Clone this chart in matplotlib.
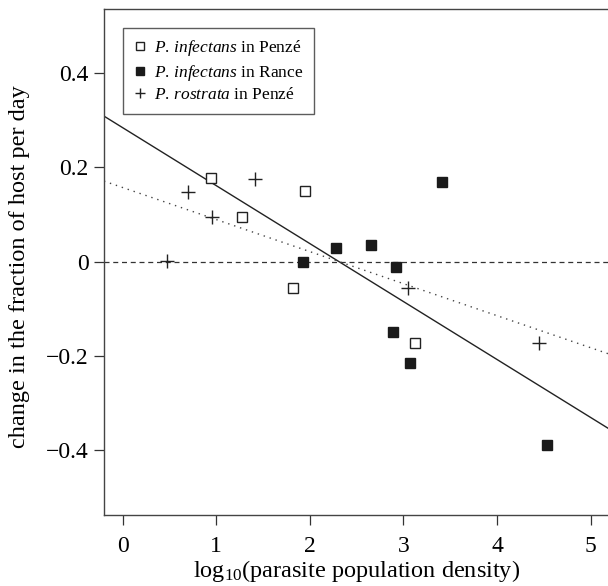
import matplotlib
matplotlib.use("Agg")
import matplotlib.pyplot as plt
import numpy as np

plt.rcParams['font.family'] = ['Liberation Serif', 'DejaVu Serif']
plt.rcParams['mathtext.fontset'] = 'custom'
plt.rcParams['mathtext.rm'] = 'Liberation Serif'
plt.rcParams['mathtext.it'] = 'Liberation Serif:italic'

# P. infectans in Penzé (open squares)
inf_penze_x = [0.94, 1.28, 1.95, 1.82, 3.12]
inf_penze_y = [0.177, 0.094, 0.149, -0.056, -0.172]

# P. infectans in Rance (filled squares)
inf_rance_x = [1.93, 2.28, 2.65, 2.92, 3.41, 2.89, 3.07, 4.53]
inf_rance_y = [0.000, 0.029, 0.035, -0.011, 0.169, -0.149, -0.215, -0.390]

# P. rostrata in Penzé (plus signs)
ros_penze_x = [0.47, 0.70, 0.955, 1.41, 3.05, 4.45]
ros_penze_y = [0.001, 0.148, 0.094, 0.175, -0.057, -0.172]

# fitted lines: (intercept, slope)
fit_infectans = (0.284, -0.123)
fit_rostrata = (0.157, -0.068)

yticks = [-0.4, -0.2, 0, 0.2, 0.4]
ytick_labels = ['\u22120.4', '\u22120.2', '0', '0.2', '0.4']
xticks = [0, 1, 2, 3, 4, 5]

fig = plt.figure(figsize=(6.08, 5.86), dpi=100)
ax = fig.add_axes([0.171, 0.1212, 0.8355, 0.8635])

ax.set_xlim(-0.2, 5.228)
ax.set_ylim(-0.538, 0.536)

ax.axhline(0, color='#333333', linestyle=(0, (4, 3)), linewidth=0.9, zorder=1)
ax.axline((0, fit_infectans[0]), slope=fit_infectans[1], color='#222222',
          linewidth=1.0, zorder=1)
ax.axline((0, fit_rostrata[0]), slope=fit_rostrata[1], color='#444444',
          linestyle=(0, (1, 3.5)), linewidth=1.0, zorder=1)

ax.plot(inf_penze_x, inf_penze_y, 's', markersize=7, markerfacecolor='white',
        markeredgecolor='#222222', markeredgewidth=1.0, linestyle='none',
        label='$\\it{P.\\,infectans}$ in Penzé', zorder=3)
ax.plot(inf_rance_x, inf_rance_y, 's', markersize=7, markerfacecolor='#1a1a1a',
        markeredgecolor='#1a1a1a', linestyle='none',
        label='$\\it{P.\\,infectans}$ in Rance', zorder=3)
ax.plot(ros_penze_x, ros_penze_y, '+', markersize=10, color='#222222',
        markeredgewidth=1.0, linestyle='none',
        label='$\\it{P.\\,rostrata}$ in Penzé', zorder=3)

ax.set_xticks(xticks)
ax.set_yticks(yticks)
ax.set_yticklabels(ytick_labels)
ax.tick_params(direction='out', length=7, width=0.9, color='#333333',
               labelsize=17)
ax.tick_params(axis='x', pad=8)
ax.tick_params(axis='y', pad=4)
for s in ax.spines.values():
    s.set_color('#444444')
    s.set_linewidth(1.0)

ax.set_xlabel(r'log$_{10}$(parasite population density)', fontsize=17.5,
              va='top')
ax.xaxis.set_label_coords(0.497, -0.086)
ax.set_ylabel('change in the fraction of host per day', fontsize=17.5)
ax.yaxis.set_label_coords(-0.145, 0.49)

leg = ax.legend(loc='upper left', bbox_to_anchor=(0.0374, 0.9625),
                fontsize=12.5, frameon=True, fancybox=False, handlelength=0.8,
                handletextpad=0.4, borderpad=0.6, labelspacing=0.25,
                borderaxespad=0, markerscale=0.75)
leg.get_frame().set_edgecolor('#333333')
leg.get_frame().set_linewidth(1.0)

fig.savefig('out.png', dpi=100)
